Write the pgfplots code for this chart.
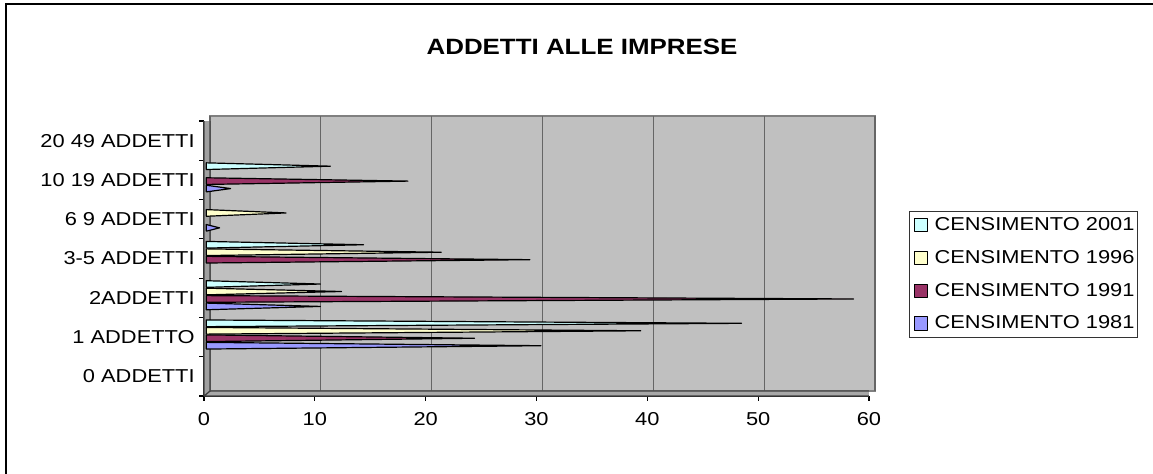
\documentclass[border=0pt]{standalone}
\usepackage{fontspec}
\setmainfont{Liberation Sans}[FakeStretch=1.17]
\usepackage{pgfplots}
\pgfplotsset{compat=1.18}
\definecolor{c81}{HTML}{9999FF}
\definecolor{c91}{HTML}{993366}
\definecolor{c96}{HTML}{FFFFCC}
\definecolor{c01}{HTML}{CCFFFF}
\definecolor{wall}{HTML}{C0C0C0}
\definecolor{floor}{HTML}{A8A8A8}
\definecolor{side}{HTML}{A0A0A0}
\definecolor{edge}{HTML}{808080}

% cones: base at x=0.2, tip at the value; one triangle per category, nan between
\pgfplotstableread{
x y
0.2 0.695
30.4 0.78
0.2 0.865
0.2 0.695
nan nan
0.2 1.695
10.5 1.78
0.2 1.865
0.2 1.695
nan nan
0.2 3.695
1.4 3.78
0.2 3.865
0.2 3.695
nan nan
0.2 4.695
2.4 4.78
0.2 4.865
0.2 4.695
}\cA
\pgfplotstableread{
x y
0.2 0.885
24.4 0.97
0.2 1.055
0.2 0.885
nan nan
0.2 1.885
58.6 1.97
0.2 2.055
0.2 1.885
nan nan
0.2 2.885
29.4 2.97
0.2 3.055
0.2 2.885
nan nan
0.2 4.885
18.4 4.97
0.2 5.055
0.2 4.885
}\cB
\pgfplotstableread{
x y
0.2 1.075
39.4 1.16
0.2 1.245
0.2 1.075
nan nan
0.2 2.075
12.4 2.16
0.2 2.245
0.2 2.075
nan nan
0.2 3.075
21.4 3.16
0.2 3.245
0.2 3.075
nan nan
0.2 4.075
7.4 4.16
0.2 4.245
0.2 4.075
}\cC
\pgfplotstableread{
x y
0.2 1.265
48.5 1.35
0.2 1.435
0.2 1.265
nan nan
0.2 2.265
10.5 2.35
0.2 2.435
0.2 2.265
nan nan
0.2 3.265
14.4 3.35
0.2 3.435
0.2 3.265
nan nan
0.2 5.265
11.4 5.35
0.2 5.435
0.2 5.265
}\cD

\begin{document}
\begin{tikzpicture}[x=0.75pt,y=0.75pt]
\useasboundingbox (0,0) rectangle (1153,474);
\fill[white] (0,0) rectangle (1153,474);
\draw[line width=1.1pt] (6,0) -- (6,470) -- (1153,470);
\node[font=\bfseries\fontsize{16.6pt}{19pt}\selectfont] at (582,427) {ADDETTI ALLE IMPRESE};

\begin{axis}[
    at={(157.5pt,62.25pt)}, anchor=south west,
    width=498.75pt, height=206.25pt, scale only axis,
    xmin=0, xmax=60, ymin=-0.5, ymax=6.5,
    xtick={0,10,...,60},
    ytick={-0.5,0.5,...,6.5},
    y tick label as interval,
    yticklabels={0 ADDETTI,1 ADDETTO,2ADDETTI,3-5 ADDETTI,6 9 ADDETTI,10 19 ADDETTI,20 49 ADDETTI},
    axis x line*=bottom, axis y line*=left,
    axis line style={black!80, line width=0.9pt, -},
    tick align=outside, major tick length=3.5pt,
    tick style={black, line width=0.8pt},
    tick label style={font=\fontsize{14pt}{16pt}\selectfont},
    xticklabel style={yshift=-5pt},
    /pgf/number format/assume math mode=true,
    xmajorgrids,
    major grid style={black!60, line width=0.9pt, xshift=4.5pt, yshift=3.75pt},
    axis background/.style={fill=wall, draw=edge, line width=1pt, xshift=4.5pt, yshift=3.75pt},
    every axis plot/.append style={draw=black, line width=0.9pt, line join=round},
    unbounded coords=jump,
    reverse legend,
    legend style={at={(1.051,0.655)}, anchor=north west, draw=black!80,
        line width=0.75pt, font=\fontsize{14pt}{16pt}\selectfont,
        row sep=9.3pt, inner ysep=2.7pt, inner xsep=0pt},
    legend cell align=left,
    legend image code/.code={\path (-3pt,0pt) (13pt,0pt);
        \draw[#1, line width=0.75pt] (0pt,-5pt) rectangle (10pt,5pt);},
]
% floor and left wall of the 3-D box
\filldraw[fill=floor, draw=black!75, line width=0.9pt] (rel axis cs:0,0) -- (rel axis cs:1,0)
   -- ([xshift=4.5pt,yshift=3.75pt]rel axis cs:1,0) -- ([xshift=4.5pt,yshift=3.75pt]rel axis cs:0,0) -- cycle;
\filldraw[fill=side, draw=black!75, line width=0.9pt] (rel axis cs:0,0) -- ([xshift=4.5pt,yshift=3.75pt]rel axis cs:0,0)
   -- ([xshift=4.5pt,yshift=3.75pt]rel axis cs:0,1) -- (rel axis cs:0,1) -- cycle;

\addplot[fill=c81] table {\cA};
\addlegendentry{CENSIMENTO 1981}
\addplot[fill=c91] table {\cB};
\addlegendentry{CENSIMENTO 1991}
\addplot[fill=c96] table {\cC};
\addlegendentry{CENSIMENTO 1996}
\addplot[fill=c01] table {\cD};
\addlegendentry{CENSIMENTO 2001}
\end{axis}
\end{tikzpicture}
\end{document}
